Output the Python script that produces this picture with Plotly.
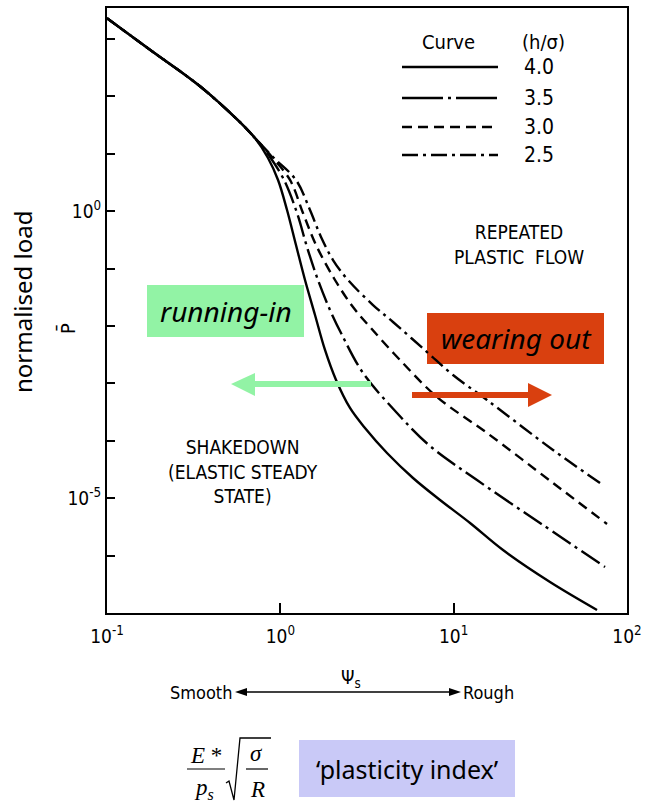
import plotly.graph_objects as go

# ---------------- data ----------------
common_psi = [0.1, 0.177, 0.344, 0.585, 0.714]
common_load = [2300, 650, 150, 35.5, 18.8]

psi_40 = [0.849, 0.970, 1.093, 1.231, 1.388, 1.585, 1.810, 2.096, 2.523, 3.078, 4.125, 5.828, 8.341, 12.43, 19.26, 35.96, 67.14]
load_40 = [8.45, 3.50, 1.049, 0.258, 0.0633, 0.01556, 3.82e-3, 1.146e-3, 3.73e-4, 1.67e-4, 6.13e-5, 2.25e-5, 9.31e-6, 3.70e-6, 1.25e-6, 3.47e-7, 1.13e-7]

psi_35 = [0.872, 1.050, 1.248, 1.425, 1.649, 1.934, 2.269, 2.999, 4.711, 7.303, 13.63, 31.48, 74.67]
load_35 = [8.80, 3.50, 0.931, 0.238, 0.0633, 0.0190, 6.97e-3, 1.52e-3, 3.05e-4, 8.11e-5, 2.07e-5, 3.70e-6, 6.33e-7]

psi_30 = [0.895, 1.137, 1.351, 1.606, 2.067, 2.626, 3.290, 4.902, 8.014, 15.57, 37.42, 76.67]
load_30 = [8.80, 3.50, 0.931, 0.258, 0.0633, 0.0214, 9.61e-3, 2.56e-3, 5.80e-4, 1.37e-4, 1.84e-5, 3.56e-6]

psi_25 = [0.919, 1.231, 1.483, 1.717, 2.013, 2.457, 3.425, 4.467, 7.018, 9.913, 15.57, 37.42, 69.87]
load_25 = [8.45, 3.50, 1.049, 0.355, 0.141, 0.0633, 0.0232, 0.01174, 3.52e-3, 1.40e-3, 5.14e-4, 6.92e-5, 1.84e-5]

curve_labels = ["4.0", "3.5", "3.0", "2.5"]
x_tick_vals = [0.1, 1, 10, 100]
x_tick_text = ["10<sup>-1</sup>", "10<sup>0</sup>", "10<sup>1</sup>", "10<sup>2</sup>"]
y_tick_vals = [1e-6, 1e-5, 1e-4, 1e-3, 1e-2, 1e-1, 1, 10, 100, 1000]
y_tick_text = ["", "10<sup>-5</sup>", "", "", "", "", "10<sup>0</sup>", "", "", ""]

# ---------------- styles ----------------
W, H = 646, 809
L, R, T, B = 107, 627, 8, 613
dashes = ["solid", "22px,5px,3px,5px", "10px,6px", "15px,5px,3px,5px"]
legend_dashes = ["solid", "41px,5px,3px,5px", "10px,6px", "16px,5px,3px,5px"]
LW = 2.4
FONT_SC = "DejaVu Sans Condensed, DejaVu Sans, sans-serif"
FONT_HAND = "Noto Sans, Open Sans, DejaVu Sans, sans-serif"
SERIF = "Liberation Serif, Times New Roman, serif"
GREEN = "#92F3A5"
RED = "#D9400F"
LAV = "#C9C9F7"


def X(px):
    return (px - L) / (R - L)


def Y(py):
    return (B - py) / (B - T)


def note(px, py, text, family, size, angle=0):
    return dict(x=X(px), y=Y(py), xref="paper", yref="paper", text=text, showarrow=False,
                textangle=angle, xanchor="center", yanchor="middle",
                font=dict(family=family, size=size, color="black"))


series = [(psi_40, load_40), (psi_35, load_35), (psi_30, load_30), (psi_25, load_25)]

fig = go.Figure()
for (px_, py_), lab, d in zip(series, curve_labels, dashes):
    fig.add_trace(go.Scatter(
        x=common_psi + px_, y=common_load + py_, mode="lines", name=lab,
        line=dict(color="black", width=LW, dash=d, shape="spline", smoothing=1.0),
        showlegend=False, hoverinfo="skip"))

shapes = []
annotations = []

# legend (custom)
annotations.append(note(448, 42, "Curve", FONT_SC, 20))
annotations.append(note(543, 42, "(h/σ)", FONT_SC, 20))
for i, (lab, d) in enumerate(zip(curve_labels, legend_dashes)):
    yy = [67, 98, 127, 155][i]
    shapes.append(dict(type="line", xref="paper", yref="paper", x0=X(402), x1=X(498),
                       y0=Y(yy), y1=Y(yy), line=dict(color="black", width=LW, dash=d)))
    annotations.append(note(539, yy, lab, FONT_SC, 21))

# region texts
annotations.append(note(519, 244, "REPEATED<br>PLASTIC  FLOW", FONT_SC, 19))
annotations.append(note(243, 472, "SHAKEDOWN<br>(ELASTIC STEADY<br>STATE)", FONT_SC, 19))

# coloured boxes
shapes.append(dict(type="rect", xref="paper", yref="paper", x0=X(147), x1=X(304), y0=Y(337), y1=Y(285),
                   fillcolor=GREEN, line=dict(width=0), layer="below"))
annotations.append(note(226, 311, "<i>running-in</i>", FONT_HAND, 28))
shapes.append(dict(type="rect", xref="paper", yref="paper", x0=X(427), x1=X(604), y0=Y(364), y1=Y(313),
                   fillcolor=RED, line=dict(width=0), layer="below"))
annotations.append(note(516, 338, "<i>wearing out</i>", FONT_HAND, 28))

# arrows
shapes.append(dict(type="line", xref="paper", yref="paper", x0=X(252), x1=X(371), y0=Y(384), y1=Y(384),
                   line=dict(color=GREEN, width=6)))
shapes.append(dict(type="path", xref="paper", yref="paper",
                   path=f"M{X(231)},{Y(384)} L{X(255)},{Y(373)} L{X(255)},{Y(396)} Z",
                   fillcolor=GREEN, line=dict(width=0)))
shapes.append(dict(type="line", xref="paper", yref="paper", x0=X(412), x1=X(530), y0=Y(395), y1=Y(395),
                   line=dict(color=RED, width=6)))
shapes.append(dict(type="path", xref="paper", yref="paper",
                   path=f"M{X(552)},{Y(395)} L{X(528)},{Y(383)} L{X(528)},{Y(407)} Z",
                   fillcolor=RED, line=dict(width=0)))

# y axis labels
annotations.append(note(67, 329, "P\u0304", FONT_SC, 20, -90))
annotations.append(note(22, 302, "normalised load", FONT_HAND, 24, -90))

# smooth / rough scale
annotations.append(note(351, 678, "Ψ<sub>s</sub>", FONT_SC, 19))
annotations.append(note(201, 692, "Smooth", FONT_SC, 18))
annotations.append(note(488, 692, "Rough", FONT_SC, 18))
shapes.append(dict(type="line", xref="paper", yref="paper", x0=X(244), x1=X(452), y0=Y(692), y1=Y(692),
                   line=dict(color="black", width=1.6)))
shapes.append(dict(type="path", xref="paper", yref="paper",
                   path=f"M{X(235)},{Y(692)} L{X(247)},{Y(688)} L{X(247)},{Y(696)} Z",
                   fillcolor="black", line=dict(width=0)))
shapes.append(dict(type="path", xref="paper", yref="paper",
                   path=f"M{X(461)},{Y(692)} L{X(449)},{Y(688)} L{X(449)},{Y(696)} Z",
                   fillcolor="black", line=dict(width=0)))

# formula
annotations.append(note(206, 755, "<i>E</i> *", SERIF, 23))
shapes.append(dict(type="line", xref="paper", yref="paper", x0=X(187), x1=X(225), y0=Y(769), y1=Y(769),
                   line=dict(color="black", width=1.2)))
annotations.append(note(204, 789, "<i>p<sub>s</sub></i>", SERIF, 23))
shapes.append(dict(type="path", xref="paper", yref="paper",
                   path=(f"M{X(226)},{Y(783)} L{X(229)},{Y(781)} L{X(234)},{Y(800)} "
                         f"L{X(240)},{Y(738)} L{X(271)},{Y(738)}"),
                   line=dict(color="black", width=1.3)))
annotations.append(note(256, 753, "<i>σ</i>", SERIF, 23))
shapes.append(dict(type="line", xref="paper", yref="paper", x0=X(246), x1=X(268), y0=Y(769), y1=Y(769),
                   line=dict(color="black", width=1.2)))
annotations.append(note(257, 789, "<i>R</i>", SERIF, 23))

shapes.append(dict(type="rect", xref="paper", yref="paper", x0=X(299), x1=X(515), y0=Y(797), y1=Y(740),
                   fillcolor=LAV, line=dict(width=0), layer="below"))
annotations.append(note(407, 769, "\u2018plasticity index\u2019", FONT_HAND, 25))

fig.update_layout(
    width=W, height=H,
    margin=dict(l=L, r=W - R, t=T, b=H - B, autoexpand=False),
    paper_bgcolor="white", plot_bgcolor="white",
    shapes=shapes, annotations=annotations,
    showlegend=False,
)
fig.update_xaxes(type="log", range=[-1, 2], tickvals=x_tick_vals, ticktext=x_tick_text,
                 ticks="inside", ticklen=10, tickwidth=1.5, tickcolor="black",
                 showline=True, linecolor="black", linewidth=2, mirror=True,
                 showgrid=False, zeroline=False, ticklabelstandoff=5,
                 tickfont=dict(family=FONT_SC, size=19, color="black"))
fig.update_yaxes(type="log", range=[-7.0, 3.54], tickvals=y_tick_vals, ticktext=y_tick_text,
                 ticks="inside", ticklen=8, tickwidth=1.5, tickcolor="black",
                 showline=True, linecolor="black", linewidth=2, mirror=True,
                 showgrid=False, zeroline=False,
                 tickfont=dict(family=FONT_SC, size=19, color="black"))

fig.write_html("out.html", config={"displayModeBar": False},
               post_script="document.body.style.margin='0';")
